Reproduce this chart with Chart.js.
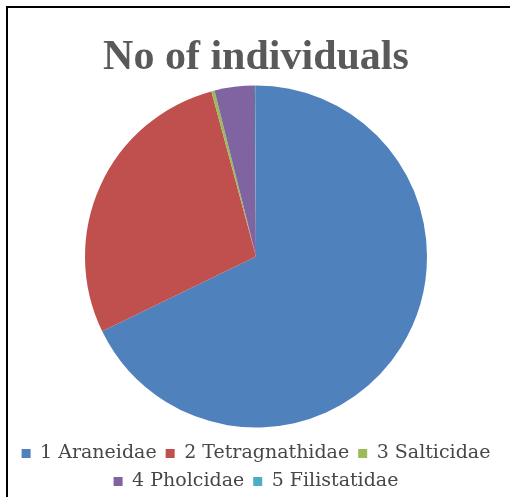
<!DOCTYPE html>
<html>
<head>
<meta charset="utf-8">
<script src="https://cdn.jsdelivr.net/npm/chart.js@4.4.1/dist/chart.umd.min.js"></script>
<style>
  html, body { margin: 0; padding: 0; background: #ffffff; }
  #wrap { position: relative; width: 510px; height: 497px; overflow: hidden; }
  #frame { position: absolute; left: 6px; top: 6px; width: 520px; height: 520px;
           border-left: 2px solid #000; border-top: 2px solid #000; }
  #c { position: absolute; left: 0; top: 0; }
</style>
</head>
<body>
<div id="wrap">
  <div id="frame"></div>
  <canvas id="c" width="510" height="497"></canvas>
</div>
<script>
// Data (share of individuals, %)
const categories = ["1 Araneidae", "2 Tetragnathidae", "3 Salticidae", "4 Pholcidae", "5 Filistatidae"];
const individuals = [67.8, 28.0, 0.3, 3.8, 0.1];
const sliceColors = ["#4F81BD", "#C0504D", "#9BBB59", "#8064A2", "#4BACC6"];
const chartTitle = "No of individuals";

new Chart(document.getElementById("c"), {
  type: "pie",
  data: {
    labels: categories,
    datasets: [{
      data: individuals,
      backgroundColor: sliceColors,
      borderWidth: 0,
      radius: 171
    }]
  },
  options: {
    responsive: false,
    animation: false,
    events: [],
    layout: { padding: { top: 0, bottom: -4, left: 2, right: 0 } },
    plugins: {
      tooltip: { enabled: false },
      title: {
        display: true,
        text: chartTitle,
        color: "#595959",
        font: { family: "'Liberation Serif', serif", size: 42, weight: "bold", lineHeight: 1.0 },
        padding: { top: 37, bottom: -1 }
      },
      legend: {
        position: "bottom",
        labels: {
          color: "#474747",
          font: { family: "'DejaVu Serif', serif", size: 19 },
          boxWidth: 9,
          boxHeight: 9,
          padding: 9
        }
      }
    }
  }
});
</script>
</body>
</html>
